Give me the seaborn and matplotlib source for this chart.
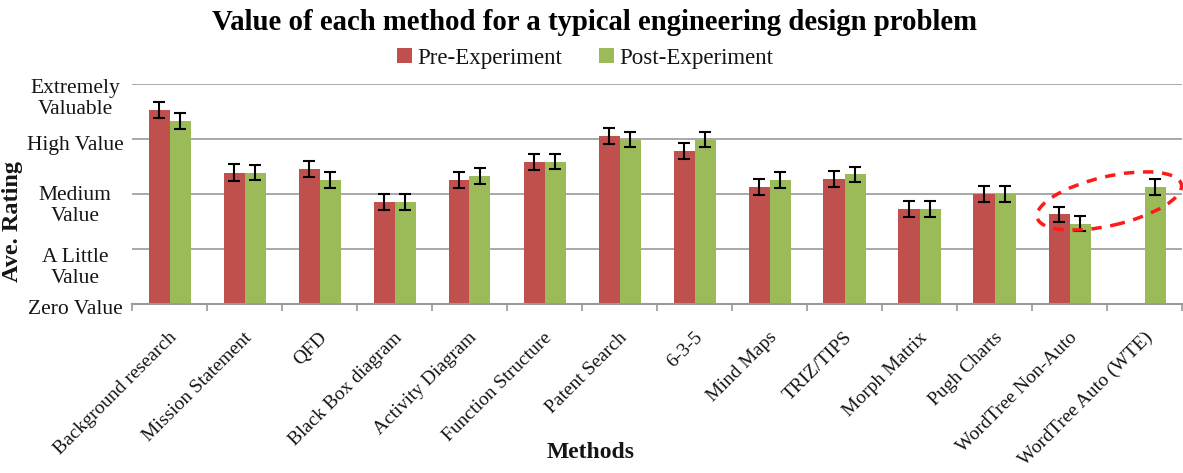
import numpy as np
import pandas as pd
import matplotlib
matplotlib.use("Agg")
import matplotlib.pyplot as plt
import seaborn as sns
from matplotlib.patches import Ellipse
from matplotlib.transforms import ScaledTranslation

# ---------------- data ----------------
methods = ["Background research", "Mission Statement", "QFD", "Black Box diagram",
           "Activity Diagram", "Function Structure", "Patent Search", "6-3-5",
           "Mind Maps", "TRIZ/TIPS", "Morph Matrix", "Pugh Charts",
           "WordTree Non-Auto", "WordTree Auto (WTE)"]
pre_values = [3.53, 2.39, 2.46, 1.86, 2.26, 2.59, 3.06, 2.79, 2.13, 2.28, 1.73, 2.00, 1.63, np.nan]
post_values = [3.33, 2.39, 2.26, 1.86, 2.33, 2.59, 2.99, 2.99, 2.26, 2.36, 1.73, 2.00, 1.46, 2.13]
pre_err = [0.15, 0.15, 0.15, 0.14, 0.14, 0.15, 0.15, 0.15, 0.15, 0.15, 0.14, 0.14, 0.14, np.nan]
post_err = [0.14, 0.14, 0.14, 0.14, 0.14, 0.14, 0.14, 0.14, 0.14, 0.14, 0.14, 0.14, 0.14, 0.14]
series_names = ["Pre-Experiment", "Post-Experiment"]
rating_ticks = [0, 1, 2, 3, 4]
rating_labels = ["Zero Value", "A Little\nValue", "Medium\nValue", "High Value", "Extremely\nValuable"]
title = "Value of each method for a typical engineering design problem"

# ---------------- style ----------------
sns.set_theme(style="white")
plt.rcParams["font.family"] = ["Liberation Serif", "DejaVu Serif"]
RED = "#C0504D"
GREEN = "#9BBB59"
GRID = "#A8A8A8"
TXT = "#151515"

df = pd.DataFrame({
    "Method": methods * 2,
    "Rating": pre_values + post_values,
    "Phase": [series_names[0]] * len(methods) + [series_names[1]] * len(methods),
})

fig = plt.figure(figsize=(11.83, 4.73), dpi=100)
ax = fig.add_axes([132 / 1183, 1 - 304 / 473, 1050 / 1183, 219.7 / 473])

sns.barplot(data=df, x="Method", y="Rating", hue="Phase", hue_order=series_names,
            order=methods, palette=[RED, GREEN], width=0.56, errorbar=None,
            saturation=1, linewidth=0, ax=ax)

# error bars at the centres of the drawn bars
for container, vals, errs in zip(ax.containers, [pre_values, post_values], [pre_err, post_err]):
    errs_ok = [e for v, e in zip(vals, errs) if not np.isnan(v)]
    xs = [b.get_x() + b.get_width() / 2 for b in container]
    hs = [b.get_height() for b in container]
    ax.errorbar(xs, hs, yerr=errs_ok[:len(xs)], fmt="none", ecolor="black",
                elinewidth=1.5, capsize=4, capthick=1.5, zorder=5)

ax.set_ylim(0, 4)
ax.set_xlim(-0.5, len(methods) - 0.5)
ax.set_yticks(rating_ticks)
ax.set_yticklabels(rating_labels, fontsize=15.5, ha="center", color=TXT, linespacing=1.15)
ax.tick_params(axis="y", length=0, pad=41)
ax.yaxis.grid(True, color=GRID, linewidth=1.4)
ax.xaxis.grid(False)
ax.set_axisbelow(True)
for s in ["left", "top", "right"]:
    ax.spines[s].set_visible(False)
ax.spines["bottom"].set_color("#9A9A9A")
ax.spines["bottom"].set_linewidth(1.5)

# per-label vertical offset (px) like the original
dy_px = [3, 15, 8, 4, 11]
for lab, dy in zip(ax.get_yticklabels(), dy_px):
    lab.set_transform(lab.get_transform() + ScaledTranslation(0, -dy / 100, fig.dpi_scale_trans))

# x ticks: labels at centres, tick marks at category boundaries
ax.set_xticks(range(len(methods)))
ax.set_xticklabels(methods, fontsize=14, rotation=45, ha="right", va="top",
                   rotation_mode="anchor", color=TXT)
ax.tick_params(axis="x", which="major", length=0, pad=18)
ax.set_xticks(np.arange(-0.5, len(methods), 1), minor=True)
ax.tick_params(axis="x", which="minor", length=5, width=1.2, color="#9A9A9A", bottom=True)
for lab in ax.get_xticklabels():
    lab.set_transform(lab.get_transform() + ScaledTranslation(-1 / 100, 0, fig.dpi_scale_trans))

ax.set_xlabel("Methods", fontsize=17, fontweight="bold", va="center", color=TXT)
ax.xaxis.set_label_coords((591 - 132) / 1050, (304 - 452) / 219.7)
ax.set_ylabel("Ave. Rating", fontsize=17.5, fontweight="bold", va="center", color=TXT)
ax.yaxis.set_label_coords((13 - 132) / 1050, (304 - 221) / 219.7)

fig.text(594 / 1183, 1 - 22 / 473, title, fontsize=20.7, fontweight="bold",
         ha="center", va="center", color="black")

handles, labels = ax.get_legend_handles_labels()
ax.legend(handles, labels, loc="center", bbox_to_anchor=(585 / 1183, 1 - 58 / 473),
          bbox_transform=fig.transFigure, ncol=2, frameon=False, fontsize=16.5,
          handlelength=0.65, handleheight=0.65, handletextpad=0.25, columnspacing=1.6,
          labelcolor=TXT)

# dashed red ellipse highlighting the WordTree bars
ell = Ellipse((0, 0), width=1.48, height=0.49, angle=13, fill=False,
              edgecolor="#FF1A1A", linewidth=2.5, linestyle=(0, (3, 2.5)),
              transform=fig.dpi_scale_trans + ScaledTranslation(12.53, 1.876, ax.transData),
              clip_on=False, zorder=10)
ax.add_patch(ell)

fig.savefig("out.png", dpi=100)
